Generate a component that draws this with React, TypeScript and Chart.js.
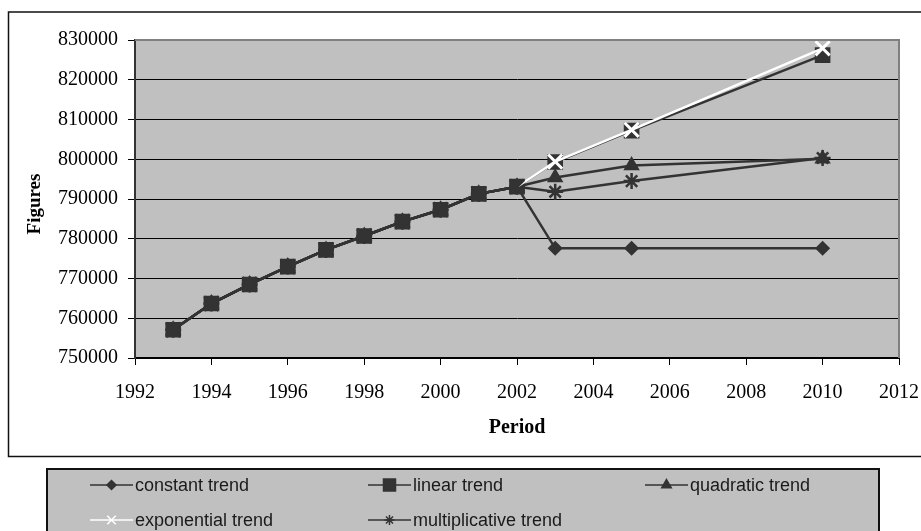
import { useEffect, useRef } from 'react';
import { Chart, registerables } from 'chart.js';
import { drawPoint } from 'chart.js/helpers';

Chart.register(...registerables);

// ---- data ----
const years = [1993, 1994, 1995, 1996, 1997, 1998, 1999, 2000, 2001, 2002, 2003, 2005, 2010];
const historical = [757100, 763700, 768500, 773000, 777200, 780700, 784300, 787300, 791300, 793100];
const constantForecast = [777600, 777600, 777600];
const linearForecast = [799300, 807200, 826200];
const quadraticForecast = [795400, 798400, 800100];
const exponentialForecast = [799400, 807400, 827900];
const multiplicativeForecast = [791800, 794500, 800300];

const seriesLabels = ['constant trend', 'linear trend', 'quadratic trend', 'exponential trend', 'multiplicative trend'];
const yMin = 750000;
const yMax = 830000;
const yStep = 10000;
const xMin = 1992;
const xMax = 2012;
const xStep = 2;
const xTitle = 'Period';
const yTitle = 'Figures';

const DARK = '#333333';
const WHITE = '#ffffff';
const HIST_END = historical.length - 1;

function toPoints(forecast: number[]) {
  const vals = historical.concat(forecast);
  return years.map((x, i) => ({ x, y: vals[i] }));
}

const legendStyles = [
  { pointStyle: 'rectRot', radius: 4.5, color: DARK },
  { pointStyle: 'rect', radius: 8.5, color: DARK },
  { pointStyle: 'triangle', radius: 5.5, color: DARK },
  { pointStyle: 'crossRot', radius: 6, color: WHITE },
  { pointStyle: 'star', radius: 5, color: DARK },
];

const framePlugin = {
  id: 'frame',
  beforeDraw(chart: any) {
    const { ctx, chartArea: a, width, height } = chart;
    ctx.save();
    ctx.fillStyle = '#ffffff';
    ctx.fillRect(0, 0, width, height);
    ctx.fillStyle = '#c0c0c0';
    ctx.fillRect(a.left, a.top, a.right - a.left, a.bottom - a.top);
    ctx.restore();
  },
  afterDraw(chart: any) {
    const { ctx, chartArea: a } = chart;
    ctx.save();
    // plot area top/right border
    ctx.strokeStyle = '#808080';
    ctx.lineWidth = 2;
    ctx.beginPath();
    ctx.moveTo(a.left, a.top);
    ctx.lineTo(a.right, a.top);
    ctx.lineTo(a.right, a.bottom);
    ctx.stroke();

    // outer chart box
    ctx.strokeStyle = '#111111';
    ctx.lineWidth = 1.5;
    ctx.strokeRect(8.5, 12, 960, 444.5);

    // axis titles
    ctx.fillStyle = '#000000';
    ctx.textAlign = 'center';
    ctx.textBaseline = 'middle';
    ctx.font = 'bold 20px "Liberation Serif", "Times New Roman", serif';
    ctx.fillText(xTitle, (a.left + a.right) / 2, 428);
    ctx.save();
    ctx.translate(35, 204);
    ctx.rotate(-Math.PI / 2);
    ctx.font = 'bold 19px "Liberation Serif", "Times New Roman", serif';
    ctx.fillText(yTitle, 0, 0);
    ctx.restore();

    // legend box
    ctx.fillStyle = '#c0c0c0';
    ctx.fillRect(47, 469, 832, 80);
    ctx.strokeStyle = '#111111';
    ctx.lineWidth = 2;
    ctx.strokeRect(47, 469, 832, 80);

    const colX = [90, 368, 645];
    const rowY = [485, 520];
    ctx.font = '18px "Liberation Sans Narrow", "Arial Narrow", "Liberation Sans", sans-serif';
    ctx.textAlign = 'left';
    ctx.textBaseline = 'middle';
    seriesLabels.forEach((label, i) => {
      const x0 = colX[i % 3];
      const y0 = rowY[Math.floor(i / 3)];
      const st = legendStyles[i];
      ctx.strokeStyle = st.color;
      ctx.fillStyle = st.color;
      ctx.lineWidth = 1.5;
      ctx.beginPath();
      ctx.moveTo(x0, y0);
      ctx.lineTo(x0 + 43, y0);
      ctx.stroke();
      drawPoint(ctx, { pointStyle: st.pointStyle as any, radius: st.radius, rotation: 0, borderWidth: 1.2 }, x0 + 21.5, y0);
      ctx.fillStyle = '#1a1a1a';
      ctx.fillText(label, x0 + 45, y0 + 1);
    });
    ctx.restore();
  },
};

export default function App() {
  const ref = useRef<HTMLCanvasElement>(null);

  useEffect(() => {
    if (!ref.current) return;
    const common = {
      borderColor: DARK,
      backgroundColor: DARK,
      pointBorderColor: DARK,
      pointBackgroundColor: DARK,
      borderWidth: 2.5,
      pointBorderWidth: 1.5,
      tension: 0,
      fill: false,
    };
    const chart = new Chart(ref.current, {
      type: 'line',
      data: {
        datasets: [
          {
            ...common,
            label: seriesLabels[0],
            data: toPoints(constantForecast),
            pointStyle: 'rectRot',
            pointRadius: 6.5,
            order: 4,
          },
          {
            ...common,
            label: seriesLabels[1],
            data: toPoints(linearForecast),
            pointStyle: 'rect',
            pointRadius: 10,
            order: 1,
          },
          {
            ...common,
            label: seriesLabels[2],
            data: toPoints(quadraticForecast),
            pointStyle: 'triangle',
            pointRadius: 8,
            order: 2,
          },
          {
            ...common,
            label: seriesLabels[3],
            data: toPoints(exponentialForecast),
            pointStyle: 'crossRot',
            pointRadius: 10,
            pointBorderWidth: 3,
            pointBorderColor: (c: any) => (c.dataIndex > HIST_END ? WHITE : DARK),
            segment: {
              borderColor: (c: any) => (c.p0DataIndex >= HIST_END ? WHITE : DARK),
            },
            order: 0,
          },
          {
            ...common,
            label: seriesLabels[4],
            data: toPoints(multiplicativeForecast),
            pointStyle: 'star',
            pointRadius: 8,
            pointBorderWidth: 2.5,
            order: 3,
          },
        ] as any,
      },
      options: {
        animation: false,
        responsive: false,
        devicePixelRatio: 1,
        layout: { padding: { top: 40, right: 22, bottom: 0, left: 0 } },
        plugins: {
          legend: { display: false },
          tooltip: { enabled: false },
          title: { display: false },
        },
        scales: {
          x: {
            type: 'linear',
            min: xMin,
            max: xMax,
            afterFit: (s: any) => {
              s.height = 173;
              s.paddingLeft = 0;
              s.paddingRight = 0;
            },
            grid: {
              drawOnChartArea: false,
              drawTicks: true,
              tickLength: 7,
              color: '#000000',
              lineWidth: 1,
            },
            border: { display: true, color: '#000000', width: 2 },
            ticks: {
              stepSize: xStep,
              autoSkip: false,
              maxRotation: 0,
              padding: 16,
              color: '#000000',
              font: { family: '"Liberation Serif", "Times New Roman", serif', size: 20 },
              callback: (v: any) => String(v),
            },
          },
          y: {
            type: 'linear',
            min: yMin,
            max: yMax,
            afterFit: (s: any) => {
              s.width = 135;
              s.paddingTop = 0;
              s.paddingBottom = 0;
            },
            grid: {
              drawOnChartArea: true,
              drawTicks: true,
              tickLength: 7,
              color: '#000000',
              lineWidth: 1,
            },
            border: { display: true, color: '#333333', width: 2 },
            ticks: {
              stepSize: yStep,
              autoSkip: false,
              padding: 10,
              color: '#000000',
              font: { family: '"Liberation Serif", "Times New Roman", serif', size: 20 },
              callback: (v: any) => String(v),
            },
          },
        },
      } as any,
      plugins: [framePlugin],
    });
    return () => chart.destroy();
  }, []);

  return (
    <div style={{ position: 'fixed', left: 0, top: 0, width: 921, height: 531, background: '#fff' }}>
      <canvas ref={ref} width={921} height={531} style={{ display: 'block' }} />
    </div>
  );
}
